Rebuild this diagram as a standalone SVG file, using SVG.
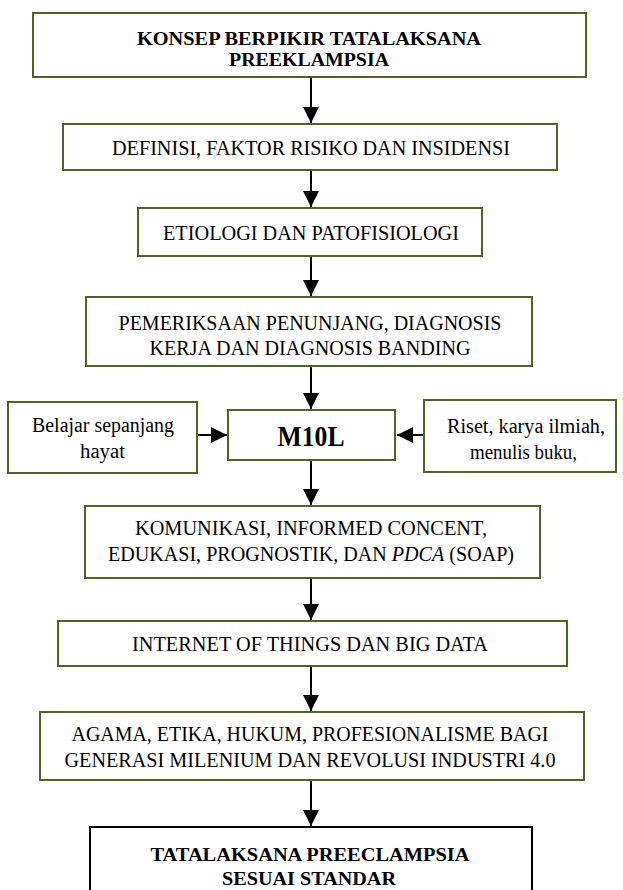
<svg xmlns="http://www.w3.org/2000/svg" width="623" height="890" viewBox="0 0 623 890">
<style>
.box{fill:#fff;stroke:#4f6228;stroke-width:2}
.boxk{fill:#fff;stroke:#000;stroke-width:2}
.t{font-family:"Liberation Serif","Times New Roman",Times,serif;font-size:20px;fill:#000;text-anchor:middle}
.b{font-weight:bold;font-size:19px}
.c{stroke:#000;stroke-width:2;fill:none;marker-end:url(#ah)}
</style>
<defs>
<marker id="ah" viewBox="0 0 16 16" refX="16" refY="8" markerWidth="16" markerHeight="16" markerUnits="userSpaceOnUse" orient="auto">
<path d="M0,0 L16,8 L0,16 Z" fill="#000"/>
</marker>
</defs>
<rect width="623" height="890" fill="#fff"/>
<g id="connectors">
<line class="c" x1="311" y1="77" x2="311" y2="123"/>
<line class="c" x1="311" y1="170" x2="311" y2="207"/>
<line class="c" x1="311" y1="256" x2="311" y2="296"/>
<line class="c" x1="311" y1="366" x2="311" y2="409"/>
<line class="c" x1="311" y1="460" x2="311" y2="505"/>
<line class="c" x1="311" y1="578" x2="311" y2="620"/>
<line class="c" x1="311" y1="666" x2="311" y2="711"/>
<line class="c" x1="311" y1="780" x2="311" y2="826"/>
<line class="c" x1="197" y1="435" x2="227" y2="435"/>
<line class="c" x1="424" y1="435" x2="397" y2="435"/>
</g>
<g id="n1">
<rect class="box" x="33" y="13" width="553" height="64"/>
<text class="t b" x="309" y="45" textLength="344" lengthAdjust="spacingAndGlyphs">KONSEP BERPIKIR TATALAKSANA</text>
<text class="t b" x="309" y="66" textLength="160" lengthAdjust="spacingAndGlyphs">PREEKLAMPSIA</text>
</g>
<g id="n2">
<rect class="box" x="63" y="124" width="494" height="46"/>
<text class="t" x="311" y="155" textLength="398" lengthAdjust="spacingAndGlyphs">DEFINISI, FAKTOR RISIKO DAN INSIDENSI</text>
</g>
<g id="n3">
<rect class="box" x="138" y="208" width="344" height="48"/>
<text class="t" x="311" y="240" textLength="296" lengthAdjust="spacingAndGlyphs">ETIOLOGI DAN PATOFISIOLOGI</text>
</g>
<g id="n4">
<rect class="box" x="86" y="297" width="446" height="69"/>
<text class="t" x="310" y="330" textLength="383" lengthAdjust="spacingAndGlyphs">PEMERIKSAAN PENUNJANG, DIAGNOSIS</text>
<text class="t" x="310" y="355" textLength="321" lengthAdjust="spacingAndGlyphs">KERJA DAN DIAGNOSIS BANDING</text>
</g>
<g id="n5">
<rect class="box" x="8" y="402" width="189" height="71"/>
<text class="t" x="103" y="432" textLength="142" lengthAdjust="spacingAndGlyphs">Belajar sepanjang</text>
<text class="t" x="102.5" y="458" textLength="45" lengthAdjust="spacingAndGlyphs">hayat</text>
</g>
<g id="n6">
<rect class="box" x="228" y="410" width="167" height="50"/>
<text class="t" x="311" y="446" style="font-size:29px;font-weight:bold" textLength="67" lengthAdjust="spacingAndGlyphs">M10L</text>
</g>
<g id="n7">
<rect class="box" x="424" y="400" width="192" height="72"/>
<text class="t" x="526" y="433" textLength="158" lengthAdjust="spacingAndGlyphs">Riset, karya ilmiah,</text>
<text class="t" x="523.5" y="459" textLength="107" lengthAdjust="spacingAndGlyphs">menulis buku,</text>
</g>
<g id="n8">
<rect class="box" x="85" y="506" width="455" height="72"/>
<text class="t" x="311" y="535" textLength="352" lengthAdjust="spacingAndGlyphs">KOMUNIKASI, INFORMED CONCENT,</text>
<text class="t" x="311" y="561" textLength="406" lengthAdjust="spacingAndGlyphs">EDUKASI, PROGNOSTIK, DAN <tspan font-style="italic">PDCA</tspan> (SOAP)</text>
</g>
<g id="n9">
<rect class="box" x="58" y="621" width="509" height="45"/>
<text class="t" x="310" y="651" textLength="356" lengthAdjust="spacingAndGlyphs">INTERNET OF THINGS DAN BIG DATA</text>
</g>
<g id="n10">
<rect class="box" x="40" y="712" width="544" height="68"/>
<text class="t" x="310" y="741" textLength="477" lengthAdjust="spacingAndGlyphs">AGAMA, ETIKA, HUKUM, PROFESIONALISME BAGI</text>
<text class="t" x="310" y="767" textLength="491" lengthAdjust="spacingAndGlyphs">GENERASI MILENIUM DAN REVOLUSI INDUSTRI 4.0</text>
</g>
<g id="n11">
<rect class="boxk" x="90" y="827" width="442" height="80"/>
<text class="t b" x="310" y="861" textLength="319" lengthAdjust="spacingAndGlyphs">TATALAKSANA PREECLAMPSIA</text>
<text class="t b" x="309" y="885" textLength="174" lengthAdjust="spacingAndGlyphs">SESUAI STANDAR</text>
</g>
</svg>
